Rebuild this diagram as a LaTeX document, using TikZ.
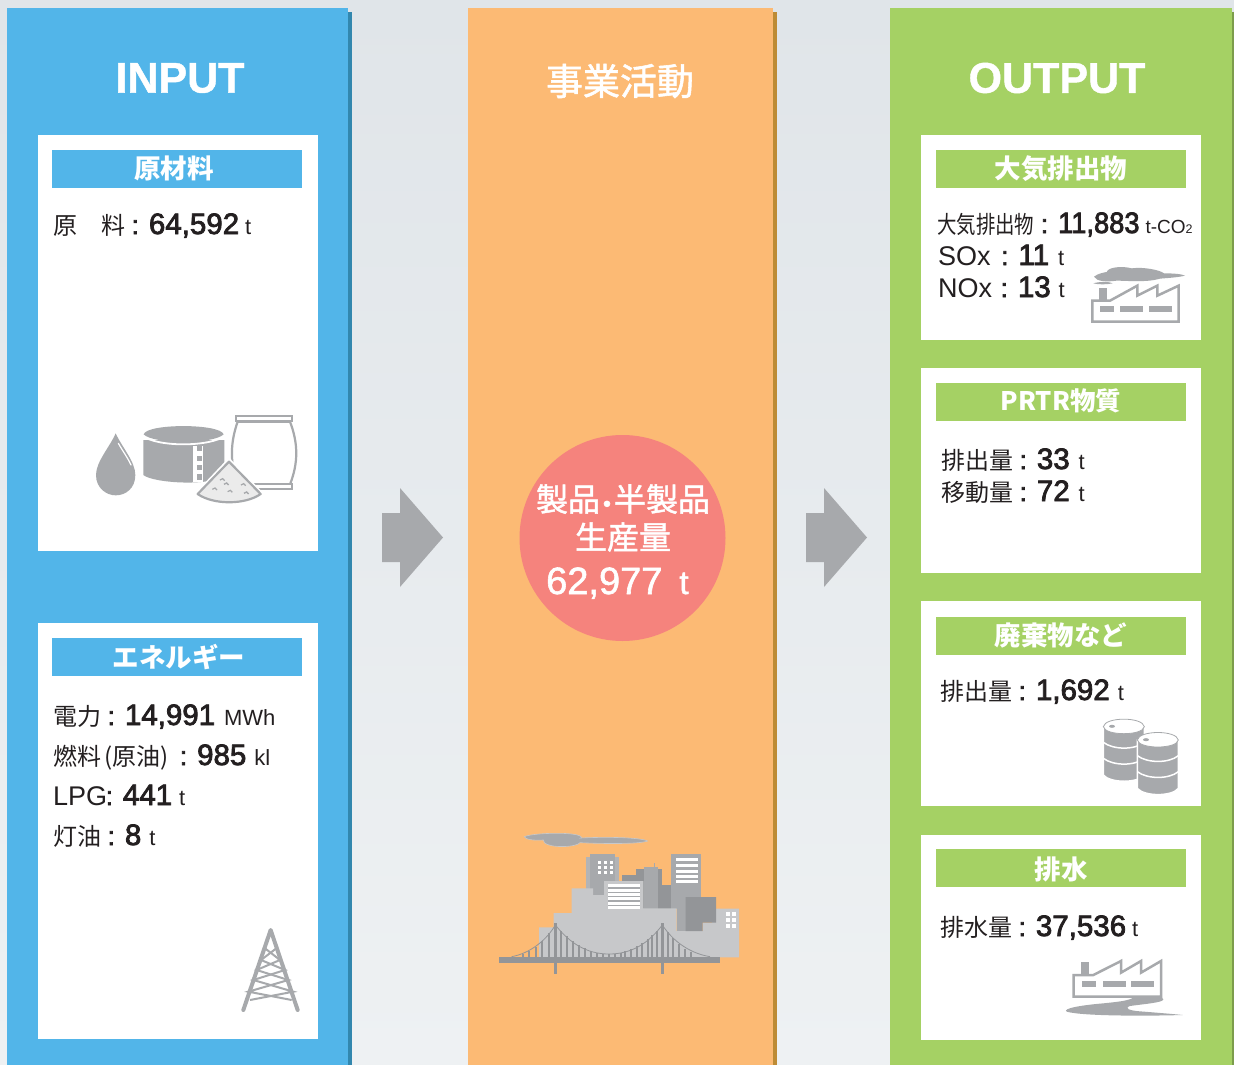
\documentclass[tikz,border=0pt]{standalone}
\usepackage{fontspec}
\setmainfont{Liberation Sans}
\newfontfamily\jp{Noto Sans CJK JP}
\newfontfamily\jpm[FakeBold=1.5]{Noto Sans CJK JP}
\newfontfamily\numf[FakeBold=2.6]{Liberation Sans}
\newfontfamily\ttlf[FakeBold=1]{Liberation Sans Bold}
\newfontfamily\bign[FakeBold=1.5]{Liberation Sans}
\definecolor{inblue}{HTML}{52B5E9}
\definecolor{inshadow}{HTML}{3287AE}
\definecolor{midorange}{HTML}{FCBA74}
\definecolor{midshadow}{HTML}{BD8B35}
\definecolor{outgreen}{HTML}{A5D164}
\definecolor{outshadow}{HTML}{7C9D4B}
\definecolor{rosy}{HTML}{F5837D}
\definecolor{bgtop}{HTML}{E0E5E9}
\definecolor{bgbot}{HTML}{EEF1F3}
\definecolor{arrowgrey}{HTML}{A7A9AC}
\definecolor{icona}{HTML}{A7A9AC}
\definecolor{iconb}{HTML}{939598}
\definecolor{iconc}{HTML}{C7C8CA}
\definecolor{inktext}{HTML}{231F20}
\newcommand{\Jl}[1]{{\jp\fontsize{24}{24}\selectfont #1}}
\newcommand{\Nm}[1]{{\fontsize{29.5}{30}\selectfont\numf #1}}
\newcommand{\Un}[1]{{\fontsize{22}{22}\selectfont #1}}
\newcommand{\Cl}{\hspace{6.5pt}{\fontsize{26}{26}\selectfont\numf :}\hspace{10pt}}
\tikzset{
  lab/.style={anchor=base west,inner sep=0pt,text=inktext,yshift=1pt},
  ttl/.style={anchor=center,inner sep=0pt,text=white,font=\fontsize{43}{43}\selectfont\ttlf},
  hdr/.style={anchor=center,inner sep=0pt,text=white,font=\jp\bfseries\fontsize{26.5}{27}\selectfont},
  circ/.style={anchor=center,inner sep=0pt,text=white,font=\jpm\fontsize{32}{32}\selectfont},
  ic/.style={x=0.33333pt,y=-0.33333pt},
}
\begin{document}
\begin{tikzpicture}[x=1pt,y=-1pt]
\useasboundingbox (0,0) rectangle (1234,1065);
\fill[top color=bgtop,bottom color=bgbot] (0,0) rectangle (1234,1065);
% shadows and panels
\fill[inshadow] (348,12) rectangle (352,1065);
\fill[inblue] (7,8) rectangle (348,1065);
\fill[midshadow] (773,12) rectangle (777,1065);
\fill[midorange] (468,8) rectangle (773,1065);
\fill[outshadow] (1232,12) rectangle (1234,1065);
\fill[outgreen] (890,8) rectangle (1232,1065);
% white cards
\fill[white] (38,135) rectangle (318,551);
\fill[white] (38,623) rectangle (318,1039);
\fill[white] (921,135) rectangle (1201,340);
\fill[white] (921,368) rectangle (1201,573);
\fill[white] (921,601) rectangle (1201,806);
\fill[white] (921,835) rectangle (1201,1040);
% header bars
\fill[inblue] (52,150) rectangle (302,188);
\fill[inblue] (52,638) rectangle (302,676);
\fill[outgreen] (936,150) rectangle (1186,188);
\fill[outgreen] (936,383) rectangle (1186,421);
\fill[outgreen] (936,617) rectangle (1186,655);
\fill[outgreen] (936,849) rectangle (1186,887);
% arrows
\fill[arrowgrey] (382,513)--(400,513)--(400,488)--(443,537.5)--(400,587)--(400,562)--(382,562)--cycle;
\fill[arrowgrey] (806,513)--(824,513)--(824,488)--(867,537.5)--(824,587)--(824,562)--(806,562)--cycle;
% circle
\fill[rosy] (622.5,538) circle[radius=103];
% titles
\node[ttl] (tin) at (180,78) {INPUT};
\node[ttl] (tout) at (1057,78) {OUTPUT};
\node[anchor=center,inner sep=0pt,text=white,font=\jpm\fontsize{37}{37}\selectfont] (tmid) at (620,81) {事業活動};
% headers
\node[hdr] (h1) at (174,168.5) {原材料};
\node[hdr] (h2) at (179,657) {エネルギー};
\node[hdr] (h3) at (1061,169) {大気排出物};
\node[hdr,font=\jp\bfseries\fontsize{25.5}{26}\selectfont] (h4) at (1061,401) {PRTR物質};
\node[hdr] (h5) at (1061,635) {廃棄物など};
\node[hdr] (h6) at (1061,869) {排水};
% circle text
\node[circ] (c1) at (623,499) {製品\makebox[14pt][c]{\fontsize{22}{22}\selectfont\numf\textbullet}半製品};
\node[circ] (c2) at (623,537) {生産量};
\node[anchor=base west,inner sep=0pt,text=white] (c3) at (546,594) {\fontsize{38}{38}\selectfont\bign 62,977\hspace{17pt}{\fontsize{33}{33}\selectfont t}};
% input labels
\node[lab] (l1) at (53,235) {\Jl{原\hspace{24pt}料}\Cl\Nm{64,592}\hspace{6pt}\Un{t}};
\node[lab] (l2) at (53,726) {\Jl{電力}\Cl\Nm{14,991}\hspace{9pt}\Un{MWh}};
\node[lab] (l3) at (53,766) {\Jl{燃料\hspace{3pt}(原油)}\hspace{5pt}\Cl\Nm{985}\hspace{8pt}\Un{kl}};
\node[lab] (l4) at (53,806) {{\fontsize{27}{27}\selectfont LPG}\hspace{-8pt}\Cl\Nm{441}\hspace{7pt}\Un{t}};
\node[lab] (l5) at (53,846) {\Jl{灯油}\Cl\Nm{8}\hspace{8pt}\Un{t}};
% output labels
\node[lab] (r1) at (937,234) {\scalebox{0.81}[1]{\Jl{大気排出物}}\Cl\scalebox{0.925}[1]{\Nm{11,883}}\hspace{6pt}{\fontsize{19}{20}\selectfont t-CO{\fontsize{12.5}{13}\selectfont 2}}};
\node[lab] (r2) at (938,266) {{\fontsize{27}{27}\selectfont SOx}\hspace{4pt}\Cl\Nm{11}\hspace{9pt}\Un{t}};
\node[lab] (r3) at (938,298) {{\fontsize{27}{27}\selectfont NOx}\hspace{2pt}\Cl\Nm{13}\hspace{8pt}\Un{t}};
\node[lab] (r4) at (941,470) {\Jl{排出量}\Cl\Nm{33}\hspace{9pt}\Un{t}};
\node[lab] (r5) at (941,502) {\Jl{移動量}\Cl\Nm{72}\hspace{9pt}\Un{t}};
\node[lab] (r6) at (940,701) {\Jl{排出量}\Cl\Nm{1,692}\hspace{8pt}\Un{t}};
\node[lab] (r7) at (940,937) {\Jl{排水量}\Cl\Nm{37,536}\hspace{6pt}\Un{t}};
% --- materials icon
\begin{scope}[shift={(60,390)},ic]
  \fill[icona] (167,130) .. controls (150,170) and (108,215) .. (108,255) .. controls (108,295) and (140,316) .. (167,316) .. controls (197,316) and (226,295) .. (226,255) .. controls (226,215) and (185,170) .. (167,130) -- cycle;
  \draw[white,line width=1.2pt,line cap=round] (175,160) .. controls (188,183) and (203,203) .. (213,225);
  \fill[icona] (250,150) -- (250,255) .. controls (280,280) and (460,290) .. (493,255) -- (493,150) -- cycle;
  \draw[white,line width=1.8pt] (245,136) .. controls (290,172) and (450,172) .. (498,136);
  \fill[icona] (251,133) .. controls (260,100) and (480,100) .. (491,133) .. controls (460,163) and (280,163) .. (251,133) -- cycle;
  \fill[white] (400,167) rectangle (428,275);
  \foreach \yy in {167,197,225,253} \fill[icona] (411,\yy) rectangle (426,\yy+16);
  \draw[icona,line width=2.2pt,fill=white] (533,95) .. controls (510,160) and (510,220) .. (533,283) -- (690,283) .. controls (715,220) and (715,160) .. (690,95) -- cycle;
  \draw[icona,line width=2.2pt,fill=white] (527,78) rectangle (697,93);
  \draw[icona,line width=2.2pt,fill=white] (527,283) rectangle (697,298);
  \draw[white,line width=5pt] (507,213) -- (413,312) .. controls (460,345) and (555,345) .. (602,312) -- cycle;
  \draw[icona,line width=2.2pt,line join=round,fill=black!8] (507,215) -- (413,312) .. controls (460,345) and (555,345) .. (602,312) -- cycle;
  \foreach \a/\b in {480/270,457/298,503/305,543/285,552/310,492/283}
    \draw[icona,line width=1.3pt] (\a,\b) -- ++(8,-4) -- ++(6,6);
\end{scope}
% --- pylon
\begin{scope}[shift={(225,920)},ic]
  \draw[icona,line width=4pt,line cap=round,line join=round] (55,270) -- (137,30) -- (218,270);
  \draw[icona,line width=2pt] (120,85) -- (165,120) -- (95,150) -- (190,180) -- (70,215) -- (200,240);
  \draw[icona,line width=2pt] (154,85) -- (108,120) -- (180,150) -- (85,180) -- (205,215) -- (75,240);
\end{scope}
% --- city
\begin{scope}[shift={(480,820)},ic]
  \fill[icona,draw=iconc,line width=.6pt] (133,50) .. controls (160,38) and (290,35) .. (303,50) .. controls (305,53) and (305,54) .. (302,54) .. controls (380,50) and (480,52) .. (503,63) .. controls (480,72) and (380,72) .. (300,68) .. controls (290,82) and (210,85) .. (193,68) .. controls (190,62) and (192,60) .. (190,60) .. controls (160,62) and (135,58) .. (133,50) -- cycle;
  \fill[iconc!90!black] (318,110) rectangle (417,228);
  \fill[icona] (330,102) rectangle (405,228);
  \foreach \xx in {354,372,390} \foreach \yy in {122,137,152} \fill[white] (\xx,\yy) rectangle ++(10,10);
  \fill[iconb] (426,165) rectangle (470,200);
  \fill[iconb] (468,147) rectangle (546,268);
  \fill[icona] (492,140) rectangle (534,268);
  \fill[icona] (522,128) rectangle (525,140);
  \fill[iconb] (534,195) rectangle (575,268);
  \fill[icona] (573,102) rectangle (663,268);
  \foreach \yy in {114,132,149,164,180} \fill[white] (588,\yy) rectangle (654,\yy+9);
  \fill[iconc] (177,322) -- (221,322) -- (221,279) -- (275,279) -- (275,205) -- (339,205) -- (339,225) -- (372,225) -- (372,183) -- (490,183) -- (490,265) -- (590,265) -- (590,333) -- (668,333) -- (668,308) -- (696,308) -- (696,266) -- (777,266) -- (777,412) -- (177,412) -- cycle;
  \fill[icona] (384,192) rectangle (480,267);
  \foreach \yy in {192,206,219,232,245,258} \fill[white] (384,\yy) rectangle (480,\yy+9);
  \fill[icona] (590,265) rectangle (617,333);
  \fill[iconb] (617,231) -- (708,231) -- (708,308) -- (668,308) -- (668,333) -- (617,333) -- cycle;
  \foreach \xx in {738,756} \foreach \yy in {276,294,312} \fill[white] (\xx,\yy) rectangle ++(12,12);
  % hangers
  \foreach \xx in {130,148,167,187,208,243,262,280,298,315,333,351,369,387,405,423,436,452,470,487,503,517,530,564,580,598,615,632} {
    \pgfmathsetmacro{\yc}{\xx<226 ? 410-95*((\xx-95)/131)^2 : (\xx<547 ? 402-87*((\xx-387)/160)^2 : 410-95*((685-\xx)/138)^2)}
    \fill[iconb] (\xx-3,\yc) rectangle (\xx+3,412);
  }
  \draw[iconb,line width=.8pt] (95,410) .. controls (150,400) and (200,360) .. (226,315);
  \draw[iconb,line width=.8pt] (226,315) .. controls (270,370) and (320,402) .. (387,402) .. controls (455,402) and (505,370) .. (547,315);
  \draw[iconb,line width=.8pt] (547,315) .. controls (580,365) and (630,400) .. (690,410);
  \fill[iconb] (222,308) rectangle (231,462);
  \fill[iconb] (543,308) rectangle (552,462);
  \fill[iconb] (57,411) rectangle (720,429);
\end{scope}
% --- air factory
\begin{scope}[shift={(1060,250)},ic]
  \fill[icona] (102,80) .. controls (115,70) and (130,68) .. (140,66) .. controls (145,50) and (190,48) .. (215,55) .. controls (250,50) and (300,60) .. (312,70) .. controls (340,70) and (365,72) .. (375,77) .. controls (350,83) and (320,84) .. (300,86) .. controls (260,98) and (200,92) .. (170,92) .. controls (140,96) and (110,95) .. (102,80) -- cycle;
  \fill[icona] (100,100) .. controls (120,94) and (150,95) .. (158,100) .. controls (140,104) and (115,104) .. (100,100) -- cycle;
  \fill[icona] (118,113) rectangle (142,150);
  \draw[icona,line width=2.5pt,miter limit=10] (97,152) -- (150,152) -- (232,107) -- (232,137) -- (292,107) -- (292,137) -- (356,107) -- (356,215) -- (97,215) -- cycle;
  \fill[icona] (120,168) rectangle (162,186);
  \fill[icona] (180,168) rectangle (250,186);
  \fill[icona] (268,168) rectangle (336,186);
\end{scope}
% --- drums
\begin{scope}[shift={(1060,710)},ic]
  \foreach \dx/\dy in {0/0,102/40} {
    \begin{scope}[shift={(\dx,\dy)}]
      \draw[white,line width=1.5pt,fill=icona] (130,50) -- (130,195) .. controls (150,220) and (235,220) .. (253,195) -- (253,50) -- cycle;
      \draw[white,line width=1.5pt] (130,97) .. controls (160,120) and (225,120) .. (253,97);
      \draw[white,line width=1.5pt] (130,145) .. controls (160,168) and (225,168) .. (253,145);
      \draw[icona,line width=.8pt,fill=white] (130,50) .. controls (135,20) and (248,20) .. (253,50) .. controls (248,78) and (135,78) .. (130,50) -- cycle;
      \fill[icona] (156,49) ellipse[x radius=9,y radius=4.5];
    \end{scope}
  }
\end{scope}
% --- water factory
\begin{scope}[shift={(1050,950)},ic]
  \fill[icona] (93,37) rectangle (117,75);
  \draw[icona,line width=2.5pt,miter limit=10] (71,75) -- (130,75) -- (213,33) -- (213,68) -- (273,33) -- (273,68) -- (333,33) -- (333,140) -- (71,140) -- cycle;
  \fill[icona] (96,94) rectangle (138,110);
  \fill[icona] (159,94) rectangle (227,110);
  \fill[icona] (243,94) rectangle (312,110);
  \fill[icona] (340,148) .. controls (340,158) and (280,162) .. (240,168) .. controls (220,175) and (240,182) .. (270,184) .. controls (320,188) and (370,192) .. (398,195) .. controls (300,198) and (100,199) .. (50,185) .. controls (35,175) and (100,165) .. (160,160) .. controls (200,156) and (240,152) .. (250,142) -- (335,142) -- cycle;
\end{scope}
\end{tikzpicture}
\end{document}
